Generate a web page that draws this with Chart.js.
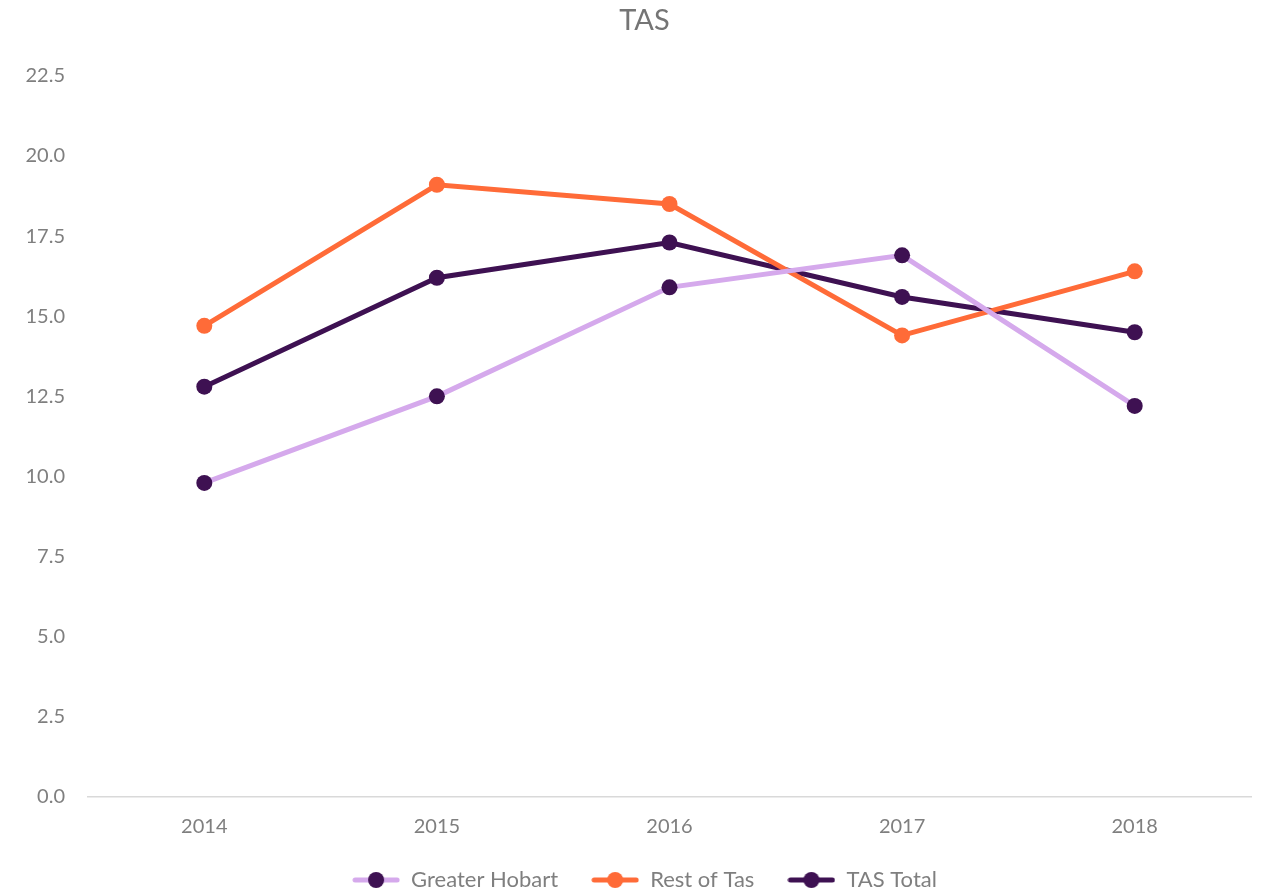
<!DOCTYPE html>
<html>
<head>
<meta charset="utf-8">
<script src="https://cdn.jsdelivr.net/npm/chart.js@4/dist/chart.umd.min.js"></script>
<style>
  html, body { margin: 0; padding: 0; background: #ffffff; }
  #wrap { width: 1261px; height: 890px; }
</style>
</head>
<body>
<div id="wrap"><canvas id="c" width="1261" height="890"></canvas></div>
<script>
const chartTitle = 'TAS';
const years = ['2014', '2015', '2016', '2017', '2018'];
const greaterHobart = [9.8, 12.5, 15.9, 16.9, 12.2];
const restOfTas = [14.7, 19.1, 18.5, 14.4, 16.4];
const tasTotal = [12.8, 16.2, 17.3, 15.6, 14.5];
const seriesNames = ['Greater Hobart', 'Rest of Tas', 'TAS Total'];

const LAVENDER = '#D5A9EC';
const ORANGE = '#FF6B38';
const DARK = '#3E1152';
const TEXT = '#7F7F7F';
const FONT = 'Lato, "Open Sans", sans-serif';

function legendIcon(lineColor, dotColor) {
  const c = document.createElement('canvas');
  c.width = 48; c.height = 18;
  const g = c.getContext('2d');
  g.strokeStyle = lineColor;
  g.lineWidth = 5;
  g.lineCap = 'round';
  g.beginPath(); g.moveTo(3, 9); g.lineTo(45, 9); g.stroke();
  g.fillStyle = dotColor;
  g.beginPath(); g.arc(24, 9, 8, 0, Math.PI * 2); g.fill();
  return c;
}

const datasets = [
  { label: seriesNames[0], data: greaterHobart, borderColor: LAVENDER, pointBackgroundColor: DARK, pointBorderColor: DARK, icon: legendIcon(LAVENDER, DARK) },
  { label: seriesNames[1], data: restOfTas, borderColor: ORANGE, pointBackgroundColor: ORANGE, pointBorderColor: ORANGE, icon: legendIcon(ORANGE, ORANGE) },
  { label: seriesNames[2], data: tasTotal, borderColor: DARK, pointBackgroundColor: DARK, pointBorderColor: DARK, icon: legendIcon(DARK, DARK) }
].map(d => Object.assign({
  borderWidth: 5,
  pointRadius: 8,
  pointHoverRadius: 8,
  pointBorderWidth: 0,
  tension: 0,
  fill: false,
  backgroundColor: d.borderColor
}, d));

// Title and legend are centred over the band from x=38 to the plot's right edge.
const shiftBoxes = {
  id: 'shiftBoxes',
  afterLayout(chart) {
    [chart.titleBlock, chart.legend].forEach(b => {
      if (b) { b.left = 38; b.right = chart.chartArea.right; b.width = b.right - b.left; }
    });
  }
};

new Chart(document.getElementById('c'), {
  type: 'line',
  data: { labels: years, datasets: datasets },
  plugins: [shiftBoxes],
  options: {
    responsive: false,
    animation: false,
    devicePixelRatio: 1,
    layout: { padding: { left: 0, right: 10, top: 0, bottom: -11 } },
    plugins: {
      tooltip: { enabled: false },
      title: {
        display: true,
        text: chartTitle,
        color: '#757575',
        font: { family: FONT, size: 29, weight: 'normal' },
        padding: { top: 3, bottom: 38 }
      },
      legend: {
        display: true,
        position: 'bottom',
        labels: {
          color: TEXT,
          font: { family: FONT, size: 22 },
          usePointStyle: true,
          pointStyleWidth: 48,
          padding: 33,
          generateLabels(chart) {
            return chart.data.datasets.map((ds, i) => ({
              text: ds.label,
              fillStyle: ds.borderColor,
              strokeStyle: ds.borderColor,
              fontColor: TEXT,
              lineWidth: 0,
              pointStyle: ds.icon,
              hidden: !chart.isDatasetVisible(i),
              datasetIndex: i
            }));
          }
        }
      }
    },
    scales: {
      x: {
        type: 'category',
        offset: true,
        grid: { display: false, drawTicks: false },
        border: { display: true, color: '#D9D9D9', width: 1.5 },
        ticks: { color: TEXT, font: { family: FONT, size: 20 }, padding: 18 },
        afterFit(scale) { scale.height = 39; }
      },
      y: {
        min: 0,
        max: 22.5,
        grid: { display: false, drawTicks: false },
        border: { display: false },
        ticks: {
          stepSize: 2.5,
          color: TEXT,
          font: { family: FONT, size: 20 },
          padding: 23,
          callback: v => Number(v).toFixed(1)
        },
        afterFit(scale) { scale.width = 88; }
      }
    }
  }
});
</script>
</body>
</html>
